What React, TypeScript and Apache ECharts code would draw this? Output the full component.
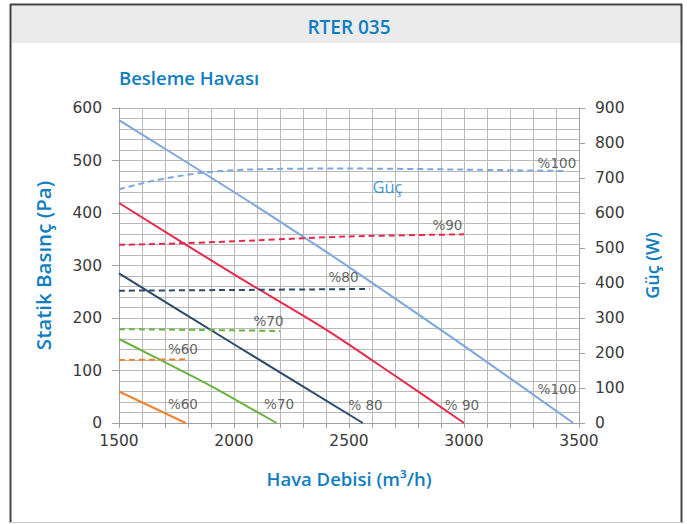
import React, { useEffect, useRef } from "react";
import * as echarts from "echarts";

// Static pressure curves (Pa) vs air flow (m³/h)
const pressure100 = [[1500, 577], [2000, 440], [2300, 355], [2500, 297], [3000, 147], [3475, 0]];
const pressure90 = [[1500, 419], [2000, 283], [2400, 178], [2700, 90], [3000, 0]];
const pressure80 = [[1500, 285], [2000, 150], [2560, 0]];
const pressure70 = [[1500, 160], [1850, 82], [2000, 46], [2185, 0]];
const pressure60 = [[1500, 60], [1790, 0]];

// Power curves (W) vs air flow (m³/h)
const power100 = [[1500, 668], [1650, 692], [1850, 714], [2050, 724], [2500, 727], [3000, 724], [3432, 720]];
const power90 = [[1500, 509], [1800, 514], [2100, 522], [2500, 533], [3000, 539]];
const power80 = [[1500, 378], [2000, 380], [2590, 383]];
const power70 = [[1500, 268], [1850, 266], [2200, 263]];
const power60 = [[1500, 180], [1800, 182]];

// Curve annotations [flow, pressure, text]
const curveLabels: [number, number, string][] = [
  [3404, 495, "%100"],
  [2928, 377, "%90"],
  [2476, 278, "%80"],
  [2150, 194, "%70"],
  [1778, 141, "%60"],
  [1778, 36, "%60"],
  [2196, 36, "%70"],
  [2572, 34, "% 80"],
  [2991, 34, "% 90"],
  [3404, 65, "%100"],
];
const powerTag: [number, number, string] = [2667, 450, "Güç"];

const title = "RTER 035";
const subTitle = "Besleme Havası";
const xName = "Hava Debisi (m³/h)";
const yLeftName = "Statik Basınç (Pa)";
const yRightName = "Güç (W)";

const BLUE = "#0f7dc2";
const colors = {
  c100: "#7ea7dd",
  c90: "#e8294b",
  c80: "#2e4a6a",
  c70: "#69b340",
  c60: "#f08330",
};
const FONT = "DejaVu Sans";
const TFONT = "Open Sans";

export default function App() {
  const ref = useRef<HTMLDivElement>(null);
  useEffect(() => {
    if (!ref.current) return;
    const chart = echarts.init(ref.current, null, { renderer: "svg" });
    const solid = (name: string, data: number[][], color: string) => ({
      name,
      type: "line",
      data,
      yAxisIndex: 0,
      symbol: "none",
      smooth: 0.3,
      lineStyle: { color, width: 2 },
      z: 3,
    });
    const dashed = (name: string, data: number[][], color: string) => ({
      name,
      type: "line",
      data,
      yAxisIndex: 1,
      symbol: "none",
      smooth: 0.3,
      lineStyle: { color, width: 2, type: [6, 4] },
      z: 3,
    });
    const gridColor = "#bababa";
    const axisColor = "#a0a0a0";
    const labelStyle = { color: "#3a3a3a", fontFamily: FONT, fontSize: 15.5 };
    chart.setOption({
      animation: false,
      backgroundColor: "#ffffff",
      graphic: [
        { type: "rect", shape: { x: 11, y: 5, width: 670, height: 38 }, style: { fill: "#ebebeb" }, silent: true },
        { type: "line", shape: { x1: 10, y1: 4.5, x2: 682, y2: 4.5 }, style: { stroke: "#444", lineWidth: 2 } },
        { type: "line", shape: { x1: 10.5, y1: 4, x2: 10.5, y2: 523 }, style: { stroke: "#444", lineWidth: 2 } },
        { type: "line", shape: { x1: 681.5, y1: 4, x2: 681.5, y2: 523 }, style: { stroke: "#444", lineWidth: 2 } },
        { type: "line", shape: { x1: 10, y1: 522.5, x2: 682, y2: 522.5 }, style: { stroke: "#c8c8c8", lineWidth: 1 } },
        {
          type: "text",
          x: 349,
          y: 27,
          style: { text: title, fill: BLUE, fontFamily: TFONT, fontSize: 19, fontWeight: 600, textAlign: "center", textVerticalAlign: "middle" },
        },
        {
          type: "text",
          x: 119,
          y: 77,
          style: { text: subTitle, fill: BLUE, fontFamily: TFONT, fontSize: 18.5, fontWeight: 600, textAlign: "left", textVerticalAlign: "middle" },
        },
      ],
      grid: { left: 119, right: 108, top: 108, bottom: 101, containLabel: false },
      xAxis: {
        type: "value",
        min: 1500,
        max: 3500,
        interval: 100,
        name: xName,
        nameLocation: "middle",
        nameGap: 46,
        nameTextStyle: { color: BLUE, fontFamily: TFONT, fontSize: 18.5, fontWeight: 600 },
        axisLine: { show: true, lineStyle: { color: axisColor, width: 1 } },
        axisTick: { show: true, length: 5, lineStyle: { color: axisColor } },
        axisLabel: {
          ...labelStyle,
          margin: 10,
          formatter: (v: number) => (v % 500 === 0 ? String(v) : ""),
        },
        splitLine: { show: true, lineStyle: { color: gridColor, width: 1 } },
      },
      yAxis: [
        {
          type: "value",
          min: 0,
          max: 600,
          interval: 100,
          position: "left",
          name: yLeftName,
          nameLocation: "middle",
          nameGap: 66,
          nameTextStyle: { color: BLUE, fontFamily: TFONT, fontSize: 20.5, fontWeight: 600 },
          axisLine: { show: true, lineStyle: { color: axisColor, width: 1 } },
          axisTick: { show: true, length: 7, lineStyle: { color: axisColor } },
          axisLabel: { ...labelStyle, margin: 17 },
          splitLine: { show: true, lineStyle: { color: gridColor, width: 1 } },
          minorTick: { show: false, splitNumber: 5 },
          minorSplitLine: { show: true, lineStyle: { color: gridColor, width: 1 } },
        },
        {
          type: "value",
          min: 0,
          max: 900,
          interval: 100,
          position: "right",
          name: yRightName,
          nameLocation: "middle",
          nameGap: 64,
          nameTextStyle: { color: BLUE, fontFamily: TFONT, fontSize: 18, fontWeight: 600 },
          axisLine: { show: true, lineStyle: { color: axisColor, width: 1 } },
          axisTick: { show: true, length: 6, lineStyle: { color: axisColor } },
          axisLabel: { ...labelStyle, margin: 16 },
          splitLine: { show: false },
        },
      ],
      series: [
        solid("Basınç %100", pressure100, colors.c100),
        solid("Basınç %90", pressure90, colors.c90),
        solid("Basınç %80", pressure80, colors.c80),
        solid("Basınç %70", pressure70, colors.c70),
        solid("Basınç %60", pressure60, colors.c60),
        dashed("Güç %100", power100, colors.c100),
        dashed("Güç %90", power90, colors.c90),
        dashed("Güç %80", power80, colors.c80),
        dashed("Güç %70", power70, colors.c70),
        dashed("Güç %60", power60, colors.c60),
        {
          name: "labels",
          type: "scatter",
          yAxisIndex: 0,
          symbolSize: 1,
          itemStyle: { color: "rgba(0,0,0,0)" },
          z: 5,
          data: [
            ...curveLabels.map((d) => ({ value: d })),
            {
              value: powerTag,
              label: { color: BLUE, fontFamily: TFONT, fontSize: 16.5 },
            },
          ],
          label: {
            show: true,
            position: "inside",
            formatter: (p: any) => p.data.value[2],
            color: "#3a3a3a",
            fontFamily: FONT,
            fontSize: 13.5,
          },
        },
      ],
    });
    return () => chart.dispose();
  }, []);
  return <div ref={ref} style={{ position: "absolute", left: 0, top: 0, width: 687, height: 524 }} />;
}
